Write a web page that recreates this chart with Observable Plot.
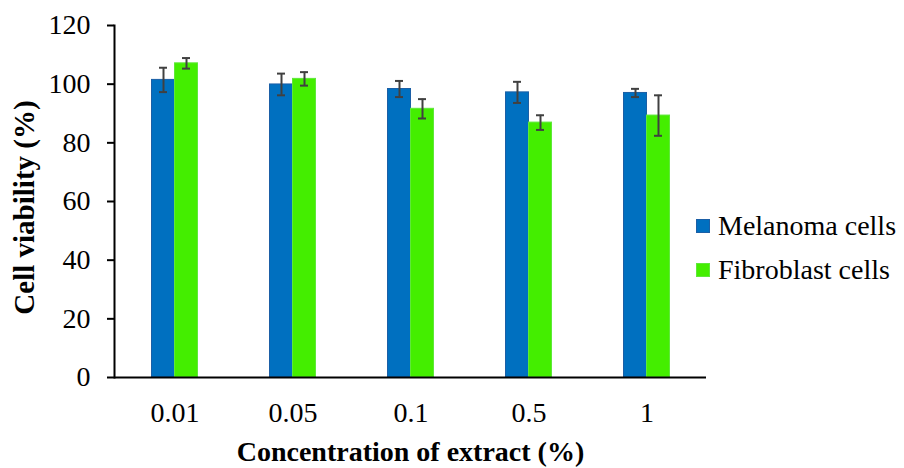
<!DOCTYPE html>
<html>
<head>
<meta charset="utf-8">
<script src="https://cdn.jsdelivr.net/npm/d3@7"></script>
<script src="https://cdn.jsdelivr.net/npm/@observablehq/plot@0.6"></script>
<style>
  html, body { margin: 0; padding: 0; background: #fff; }
  #wrap { position: relative; width: 904px; height: 468px; font-family: "Liberation Serif", "Times New Roman", Tinos, serif; }
  .legend { position: absolute; left: 696px; font-size: 28px; color: #000; }
  .legend .row { position: absolute; left: 0; white-space: nowrap; height: 30px; line-height: 30px; }
  .legend .sw { position: absolute; left: 0; top: 8px; width: 14px; height: 14px; }
  .legend .lab { position: absolute; left: 22px; top: 0; }
</style>
</head>
<body>
<div id="wrap"></div>
<script>
const concentrations = ["0.01", "0.05", "0.1", "0.5", "1"];
const seriesNames = ["Melanoma cells", "Fibroblast cells"];
const melanoma = [101.45, 99.9, 98.35, 97.2, 97.0];
const melanomaErr = [4.15, 3.7, 2.75, 3.6, 1.4];
const fibroblast = [107.1, 101.8, 91.6, 86.9, 89.3];
const fibroblastErr = [1.8, 2.3, 3.3, 2.5, 6.9];
const yTicks = [0, 20, 40, 60, 80, 100, 120];
const colors = ["#0070C0", "#44EE00"];
const strokes = ["#1b5fa6", "#5fe83a"];
const serif = "'Liberation Serif', 'Times New Roman', Tinos, serif";

const rows = (vals, errs) => concentrations.map((c, i) => ({c, v: vals[i], lo: vals[i] - errs[i], hi: vals[i] + errs[i]}));
const mel = rows(melanoma, melanomaErr);
const fib = rows(fibroblast, fibroblastErr);

const half = 11.5;
const errColor = "#404040";

function seriesMarks(data, i, dx) {
  return [
    Plot.barY(data, {x: "c", y: "v", fill: colors[i], stroke: strokes[i], strokeWidth: 1, dx}),
    Plot.ruleX(data, {x: "c", y1: "lo", y2: "hi", stroke: errColor, strokeWidth: 2, dx}),
    Plot.tickY(data, {x: "c", y: "lo", stroke: errColor, strokeWidth: 2, dx, insetLeft: 7.5, insetRight: 7.5}),
    Plot.tickY(data, {x: "c", y: "hi", stroke: errColor, strokeWidth: 2, dx, insetLeft: 7.5, insetRight: 7.5})
  ];
}

const chart = Plot.plot({
  width: 904,
  height: 468,
  marginLeft: 114,
  marginRight: 198,
  marginTop: 25,
  marginBottom: 91,
  style: {fontFamily: serif, fontSize: "28px", color: "#000", background: "#fff"},
  x: {domain: concentrations, paddingInner: 0.806, paddingOuter: 0.403},
  y: {domain: [0, 120]},
  marks: [
    ...seriesMarks(mel, 0, -half),
    ...seriesMarks(fib, 1, half),
    Plot.axisY({ticks: yTicks, tickSize: 7, tickPadding: 17, fontSize: 28, fontFamily: serif, strokeWidth: 2, label: null, tickFormat: d => String(d)}),
    Plot.axisX({tickSize: 0, tickPadding: 25, fontSize: 28, fontFamily: serif, label: null}),
    Plot.frame({anchor: "left", stroke: "#000", strokeWidth: 2}),
    Plot.ruleY([0], {stroke: "#000", strokeWidth: 2}),
    Plot.text(["Concentration of extract (%)"], {frameAnchor: "bottom", dy: 75, fontSize: 28, fontWeight: "bold", fontFamily: serif, fill: "#000", lineAnchor: "middle"}),
    Plot.text(["Cell viability (%)"], {frameAnchor: "left", textAnchor: "middle", dx: -90, dy: 6, rotate: -90, fontSize: 29, fontWeight: "bold", fontFamily: serif, fill: "#000", lineAnchor: "middle"})
  ]
});

const wrap = document.getElementById("wrap");
wrap.appendChild(chart);

const legend = document.createElement("div");
legend.className = "legend";
legend.style.top = "211px";
seriesNames.forEach((name, i) => {
  const row = document.createElement("div");
  row.className = "row";
  row.style.top = (i * 44) + "px";
  const sw = document.createElement("span");
  sw.className = "sw";
  sw.style.background = colors[i];
  sw.style.border = "1px solid " + strokes[i];
  sw.style.boxSizing = "border-box";
  const lab = document.createElement("span");
  lab.className = "lab";
  lab.textContent = name;
  row.appendChild(sw);
  row.appendChild(lab);
  legend.appendChild(row);
});
wrap.appendChild(legend);
</script>
</body>
</html>
